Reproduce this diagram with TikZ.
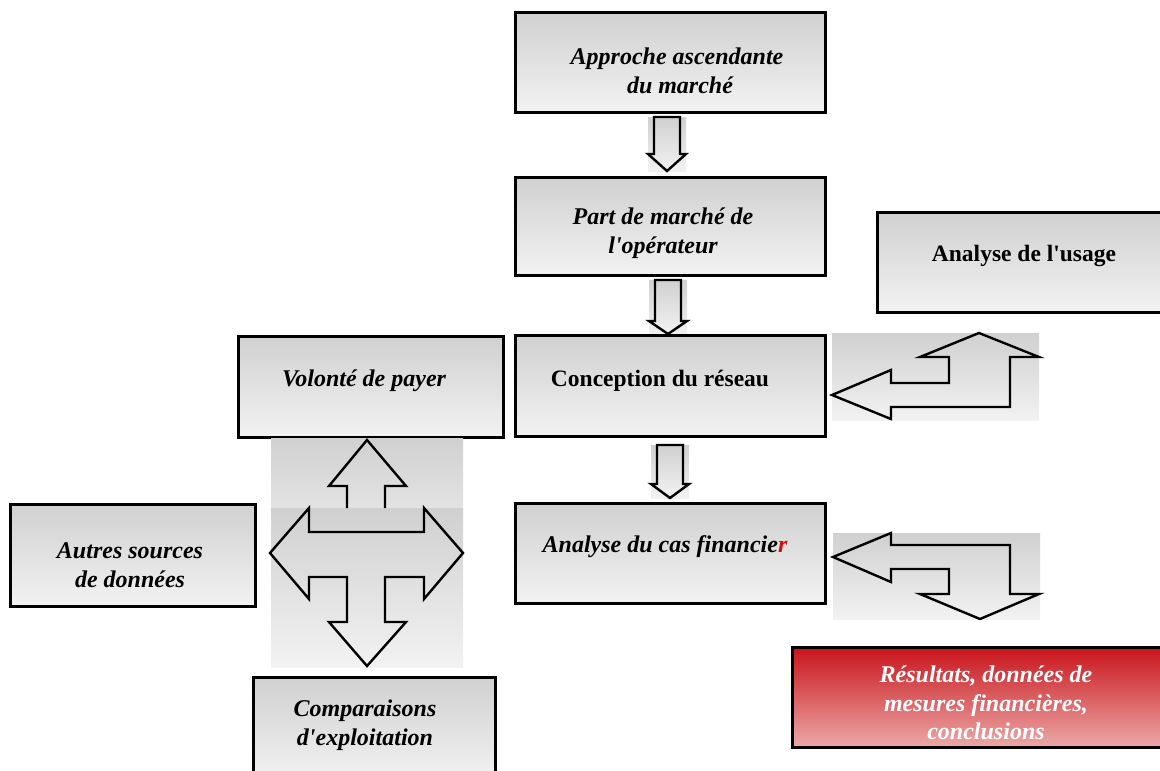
\documentclass[tikz,border=0pt]{standalone}
\usepackage{fontspec}
\setmainfont{Liberation Serif}
\usetikzlibrary{positioning}
\definecolor{BoxTop}{HTML}{D0D0D0}
\definecolor{BoxBottom}{HTML}{F2F2F2}
\definecolor{ResTop}{HTML}{C8141A}
\definecolor{ResBottom}{HTML}{ECA8A8}
\definecolor{MarkRed}{HTML}{D01010}
\tikzset{
  boite/.style={draw,line width=3pt,top color=BoxTop,bottom color=BoxBottom,inner sep=0pt},
  fleche/.style={draw,line width=2.4pt,line join=miter},
  txt/.style={font=\fontsize{24}{28.5}\selectfont\bfseries\itshape,align=center,inner sep=0pt},
  txtdroit/.style={font=\fontsize{23.5}{28}\selectfont\bfseries,align=center,inner sep=0pt}
}
\newcommand{\flechebas}[4]{%
  \path[top color=BoxTop,bottom color=BoxBottom]
    ({#1-19},#2) rectangle ({#1+19},#4);
  \draw[fleche] ({#1-13},#2) -- ({#1+13},#2) -- ({#1+13},#3) -- ({#1+19},#3)
    -- (#1,#4) -- ({#1-19},#3) -- ({#1-13},#3) -- cycle;
}
\newcommand{\apos}{\textquotesingle}

\begin{document}
\begin{tikzpicture}[x=1pt,y=-1pt]
  \useasboundingbox (0,0) rectangle (1160,771);
  \clip (0,0) rectangle (1160,771);
  % colonne centrale
  \node[boite,minimum width=310pt,minimum height=100pt] (appr) at (670,62) {};
  \node[txt] (appr-t) at (677,71) {Approche ascendante\\ \ du march\'e};
  \flechebas{667}{117}{154}{171}
  \node[boite,minimum width=310pt,minimum height=98pt] (part) at (670,226) {};
  \node[txt] (part-t) at (663,233) {Part de march\'e de\\l\apos op\'erateur};
  \flechebas{668}{280}{321}{334}
  \node[boite,minimum width=310pt,minimum height=101pt] (conc) at (670,385.5) {};
  \node[txtdroit,anchor=base] (conc-t) at (660,386) {Conception du r\'eseau};
  \flechebas{670}{445}{484}{498}
  \node[boite,minimum width=310pt,minimum height=100pt] (fin) at (670,553) {};
  \node[txt,anchor=base] (fin-t) at (665,552) {Analyse du cas financie\textcolor{MarkRed}{r}};
  % droite
  \node[boite,minimum width=293pt,minimum height=100pt] (usage) at (1023.5,262) {};
  \node[txtdroit,anchor=base] (usage-t) at (1024,261) {Analyse de l\apos usage};
  \path[top color=BoxTop,bottom color=BoxBottom] (832,333) rectangle (1039,420);
  \draw[fleche] (832,395) -- (891,370) -- (891,383) -- (949,383) -- (949,357)
    -- (920,357) -- (979,333) -- (1039,357) -- (1010,357) -- (1010,407)
    -- (891,407) -- (891,419) -- cycle;
  \path[top color=BoxTop,bottom color=BoxBottom] (833,533) rectangle (1040,619);
  \draw[fleche] (833,557) -- (891,533) -- (891,545) -- (1010,545) -- (1010,594)
    -- (1039,594) -- (980,619) -- (920,594) -- (949,594) -- (949,569)
    -- (891,569) -- (891,582) -- cycle;
  \node[boite,top color=ResTop,bottom color=ResBottom,minimum width=378pt,
        minimum height=100pt] (res) at (981,697) {};
  \node[txt,text=white] (res-t) at (986,703)
    {R\'esultats, donn\'ees de\\mesures financi\`eres,\\conclusions};
  % gauche
  \node[boite,minimum width=265pt,minimum height=101pt] (vol) at (370.5,386.5) {};
  \node[txt,anchor=base] (vol-t) at (364,386) {Volont\'e de payer};
  \node[boite,minimum width=245pt,minimum height=102pt] (autres) at (132.5,555) {};
  \node[txt] (autres-t) at (130,565) {Autres sources\\de donn\'ees};
  \node[boite,minimum width=242pt,minimum height=103pt] (comp) at (374,728.5) {};
  \node[txt] (comp-t) at (365,725) {Comparaisons\\d\apos exploitation};
  \path[top color=BoxTop,bottom color=BoxTop!45!BoxBottom] (271,438) rectangle (463,508);
  \path[top color=BoxTop,bottom color=BoxBottom] (271,508) rectangle (463,667);
  \draw[fleche] (347,508) -- (347,486) -- (329,486) -- (367,440) -- (406,486)
    -- (385,486) -- (385,508);
  \draw[fleche] (270,553) -- (309,508) -- (309,532) -- (424,532) -- (424,508)
    -- (463,553) -- (424,599) -- (424,577) -- (385,577) -- (385,622)
    -- (406,622) -- (367,666) -- (329,622) -- (347,622) -- (347,577)
    -- (309,577) -- (309,599) -- cycle;
\end{tikzpicture}
\end{document}
